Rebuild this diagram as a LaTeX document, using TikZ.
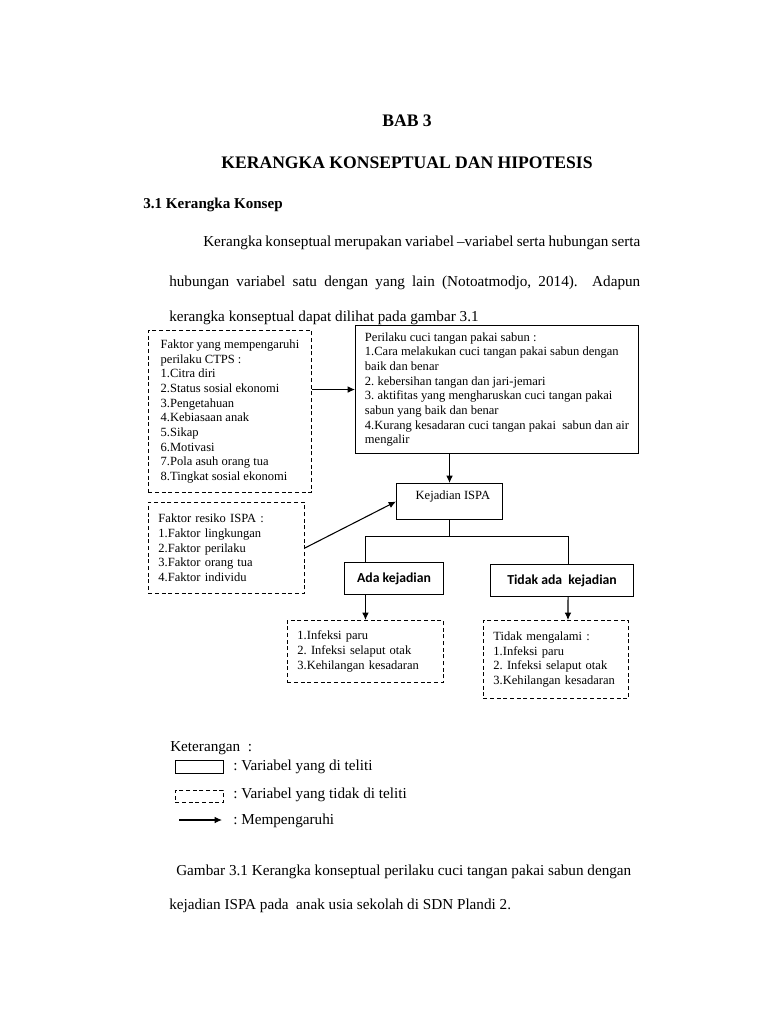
\documentclass[tikz,border=0pt]{standalone}
\usepackage{fontspec}
\setmainfont{Liberation Serif}
\newfontfamily\calibfont{Carlito}
\usetikzlibrary{calc, arrows.meta}
\frenchspacing
\tikzset{
    solidbox/.style={draw, line width=0.8pt, align=left},
    dashbox/.style={draw, line width=0.7pt, dash pattern=on 3pt off 2pt, align=left},
    arr/.style={line width=0.8pt, -{Latex[length=5.5pt, width=5pt]}},
    plain/.style={inner sep=0pt, anchor=base west},
    diagtext/.style={font=\fontsize{9.4}{11}\selectfont},
    bodytext/.style={font=\fontsize{11.4}{14}\selectfont},
    choice/.style={solidbox, anchor=north west, minimum height=24pt, font=\calibfont\bfseries\fontsize{10.3}{12}\selectfont},
    page settings/.style={x=0.75pt, y=-0.75pt}
}

\begin{document}
\begin{tikzpicture}[page settings]

    % Page
    \useasboundingbox[fill=white] (0,0) rectangle (768,1024);

    % Headings
    \node[inner sep=0pt, anchor=base, font=\fontsize{13.2}{16}\selectfont\bfseries] (bab) at (407,126) {BAB 3};
    \node[inner sep=0pt, anchor=base, font=\fontsize{13.2}{16}\selectfont\bfseries] (judul) at (407,168) {KERANGKA KONSEPTUAL DAN HIPOTESIS};
    \node[plain, font=\fontsize{11.3}{14}\selectfont\bfseries] (subbab) at (143,208) {3.1 Kerangka Konsep};

    % Paragraph
    \node[plain, bodytext] (par1) at (203,246) {\makebox[327.75pt][s]{Kerangka konseptual merupakan variabel –variabel serta hubungan serta}};
    \node[plain, bodytext] (par2) at (169,286) {\makebox[353.25pt][s]{hubungan variabel satu dengan yang lain (Notoatmodjo, 2014).\ \ Adapun}};
    \node[plain, bodytext] (par3) at (169,321) {kerangka konseptual dapat dilihat pada gambar 3.1};

    % Diagram boxes
    \node[dashbox, diagtext, anchor=north west, minimum width=122.25pt, minimum height=121.5pt] (faktor) at (148,330)
        {Faktor yang mempengaruhi\\ perilaku CTPS :\\ 1.Citra diri\\ 2.Status sosial ekonomi\\ 3.Pengetahuan\\ 4.Kebiasaan anak\\ 5.Sikap\\ 6.Motivasi\\ 7.Pola asuh orang tua\\ 8.Tingkat sosial ekonomi};
    \node[solidbox, diagtext, anchor=north west, minimum width=212.25pt, minimum height=96pt] (perilaku) at (355,325)
        {Perilaku cuci tangan pakai sabun :\\ 1.Cara melakukan cuci tangan pakai sabun dengan\\ baik dan benar\\ 2. kebersihan tangan dan jari-jemari\\ 3. aktifitas yang mengharuskan cuci tangan pakai\\ sabun yang baik dan benar\\ 4.Kurang kesadaran cuci tangan pakai\ \ sabun dan air\\ mengalir};
    \node[solidbox, diagtext, anchor=north west, minimum width=79.5pt, minimum height=27pt, inner ysep=3pt, text height=9pt, text depth=12pt, align=center] (kejadian) at (396,483) {\hspace*{5pt}Kejadian ISPA};
    \node[dashbox, diagtext, anchor=north west, minimum width=117pt, minimum height=68.25pt, inner xsep=7.5pt, text width=102pt] (resiko) at (148,502)
        {Faktor resiko ISPA :\\ 1.Faktor lingkungan\\ 2.Faktor perilaku\\ 3.Faktor orang tua\\ 4.Faktor individu};
    \node[choice, minimum width=74.25pt] (ada) at (344,562) {Ada kejadian};
    \node[choice, minimum width=107.25pt] (tidak) at (490,564) {Tidak ada\ \ kejadian};
    \node[dashbox, diagtext, anchor=north west, minimum width=117pt, minimum height=46.5pt, inner xsep=7.5pt, text width=102pt] (infeksi) at (287,620)
        {1.Infeksi paru\\ 2. Infeksi selaput otak\\ 3.Kehilangan kesadaran};
    \node[dashbox, diagtext, anchor=north west, minimum width=108.75pt, minimum height=58.5pt, inner xsep=7.5pt, text width=93.75pt] (tidakmeng) at (483,620)
        {Tidak mengalami :\\ 1.Infeksi paru\\ 2. Infeksi selaput otak\\ 3.Kehilangan kesadaran};

    % Connectors
    \draw[arr] (faktor.east |- perilaku.west) -- (perilaku.west);
    \draw[arr] (perilaku.south -| kejadian.north) -- (kejadian.north);
    \draw[arr] (resiko.east) -- (kejadian.west);
    \coordinate (split) at ($(kejadian.south)+(0,16)$);
    \coordinate (kanan) at ($(tidak.north)+(6,0)$);
    \draw[line width=0.8pt] (kejadian.south) -- (split);
    \draw[line width=0.8pt] (split) -| (ada.north -| infeksi.north);
    \draw[line width=0.8pt] (split) -| (kanan);
    \draw[arr] (ada.south -| infeksi.north) -- (infeksi.north);
    \draw[arr] ($(tidak.south)+(6,0)$) -- ($(tidakmeng.north)+(12,0)$);

    % Legend
    \node[plain, bodytext] (ket) at (170,751) {Keterangan\ \ :};
    \node[solidbox, anchor=north west, minimum width=36pt, minimum height=9.75pt, inner sep=0pt] (legsolid) at (175,760) {};
    \node[plain, bodytext] (legtxt1) at (233,770) {: Variabel yang di teliti};
    \node[dashbox, anchor=north west, minimum width=36pt, minimum height=9pt, inner sep=0pt] (legdash) at (175,790) {};
    \node[plain, bodytext] (legtxt2) at (233,798) {: Variabel yang tidak di teliti};
    \coordinate (legA) at (179,820);
    \coordinate (legB) at (222,820);
    \draw[arr] (legA) -- (legB);
    \node[plain, bodytext] (legtxt3) at (233,824) {: Mempengaruhi};

    % Caption
    \node[plain, bodytext] (cap1) at (176,875) {Gambar 3.1 Kerangka konseptual perilaku cuci tangan pakai sabun dengan};
    \node[plain, bodytext] (cap2) at (169,909) {kejadian ISPA pada\ \ anak usia sekolah di SDN Plandi 2.};

\end{tikzpicture}
\end{document}
